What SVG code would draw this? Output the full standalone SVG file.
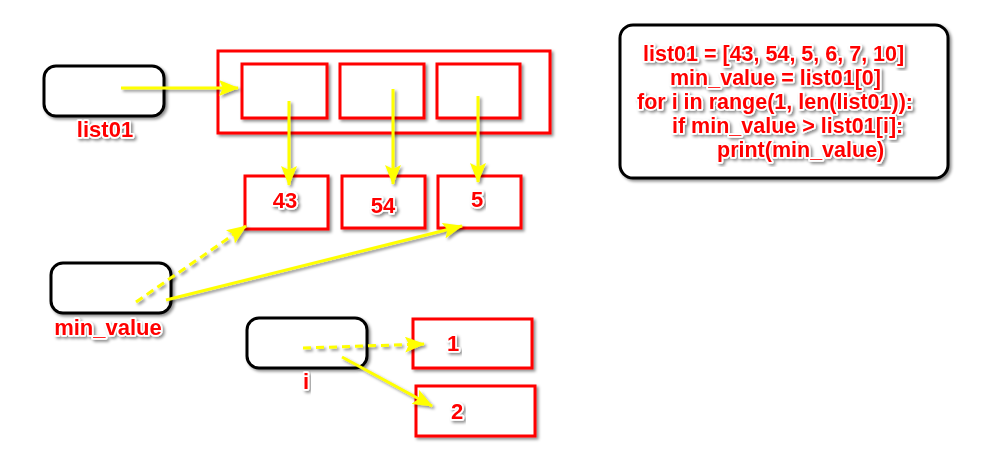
<svg xmlns="http://www.w3.org/2000/svg" width="988" height="469" viewBox="0 0 988 469">
<defs>
<filter id="sh" x="-20%" y="-20%" width="140%" height="140%">
<feDropShadow dx="2" dy="2" stdDeviation="1.8" flood-color="#000" flood-opacity="0.45"/>
</filter>
<marker id="ah" viewBox="0 0 20 16" refX="19" refY="8" markerWidth="20" markerHeight="16" markerUnits="userSpaceOnUse" orient="auto">
<path d="M0,0 L20,8 L0,16 L4,8 z" fill="#ffff00"/>
</marker>
</defs>
<style>
.var{fill:#fff;stroke:#000;stroke-width:3;filter:url(#sh)}
.cell{fill:#fff;stroke:#ff0000;stroke-width:3;filter:url(#sh)}
.t{font-family:"Liberation Sans",Arial,sans-serif;font-weight:bold;font-size:22px;fill:#ff0000;stroke:#fff;stroke-width:3.5;stroke-linejoin:round;paint-order:stroke;filter:url(#sh)}
.k{font-size:21.5px}
.c{text-anchor:middle}
.ln{fill:none;stroke:#ffff00;stroke-width:3;marker-end:url(#ah)}
.d{stroke-dasharray:8 5}
</style>
<rect width="988" height="469" fill="#fff"/>
<g id="list01">
<rect class="var" x="44" y="66" width="120" height="50" rx="12"/>
<text class="t c" x="105" y="137">list01</text>
</g>
<g id="list">
<rect class="cell" x="218" y="51" width="332" height="82"/>
</g>
<g id="cell0"><rect class="cell" x="242" y="64" width="85" height="54"/></g>
<g id="cell1"><rect class="cell" x="340" y="64" width="84" height="54"/></g>
<g id="cell2"><rect class="cell" x="437" y="64" width="83" height="54"/></g>
<g id="v43"><rect class="cell" x="245" y="176" width="83" height="53"/><text class="t c" x="285" y="208">43</text></g>
<g id="v54"><rect class="cell" x="342" y="176" width="83" height="52"/><text class="t c" x="383" y="213">54</text></g>
<g id="v5"><rect class="cell" x="438" y="176" width="83" height="52"/><text class="t c" x="477" y="207">5</text></g>
<g id="min_value">
<rect class="var" x="51" y="263" width="120" height="50" rx="12"/>
<text class="t c" x="108" y="335">min_value</text>
</g>
<g id="i">
<rect class="var" x="247" y="318" width="120" height="50" rx="12"/>
<text class="t c" x="306" y="389">i</text>
</g>
<g id="v1"><rect class="cell" x="413" y="319" width="119" height="49"/><text class="t c" x="453" y="351">1</text></g>
<g id="v2"><rect class="cell" x="416" y="386" width="119" height="50"/><text class="t c" x="457" y="419">2</text></g>
<g id="code">
<rect class="var" x="620" y="25" width="328" height="153" rx="13"/>
<text class="t k" x="643" y="61">list01 = [43, 54, 5, 6, 7, 10]</text>
<text class="t k" x="670" y="85">min_value = list01[0]</text>
<text class="t k" x="637" y="109">for i in range(1, len(list01)):</text>
<text class="t k" x="672" y="133">if min_value &gt; list01[i]:</text>
<text class="t k" x="717" y="157">print(min_value)</text>
</g>
<g id="connectors" filter="url(#sh)">
<path class="ln" d="M121,88 L238,88"/>
<path class="ln" d="M289,101 L289,185"/>
<path class="ln" d="M393,89 L393,184"/>
<path class="ln" d="M478,96 L478,182"/>
<path class="ln d" d="M136,302 L246,226"/>
<path class="ln" d="M166,300 L462,226"/>
<path class="ln d" d="M303,348 L424,344"/>
<path class="ln" d="M342,357 L432,406"/>
</g>
</svg>
